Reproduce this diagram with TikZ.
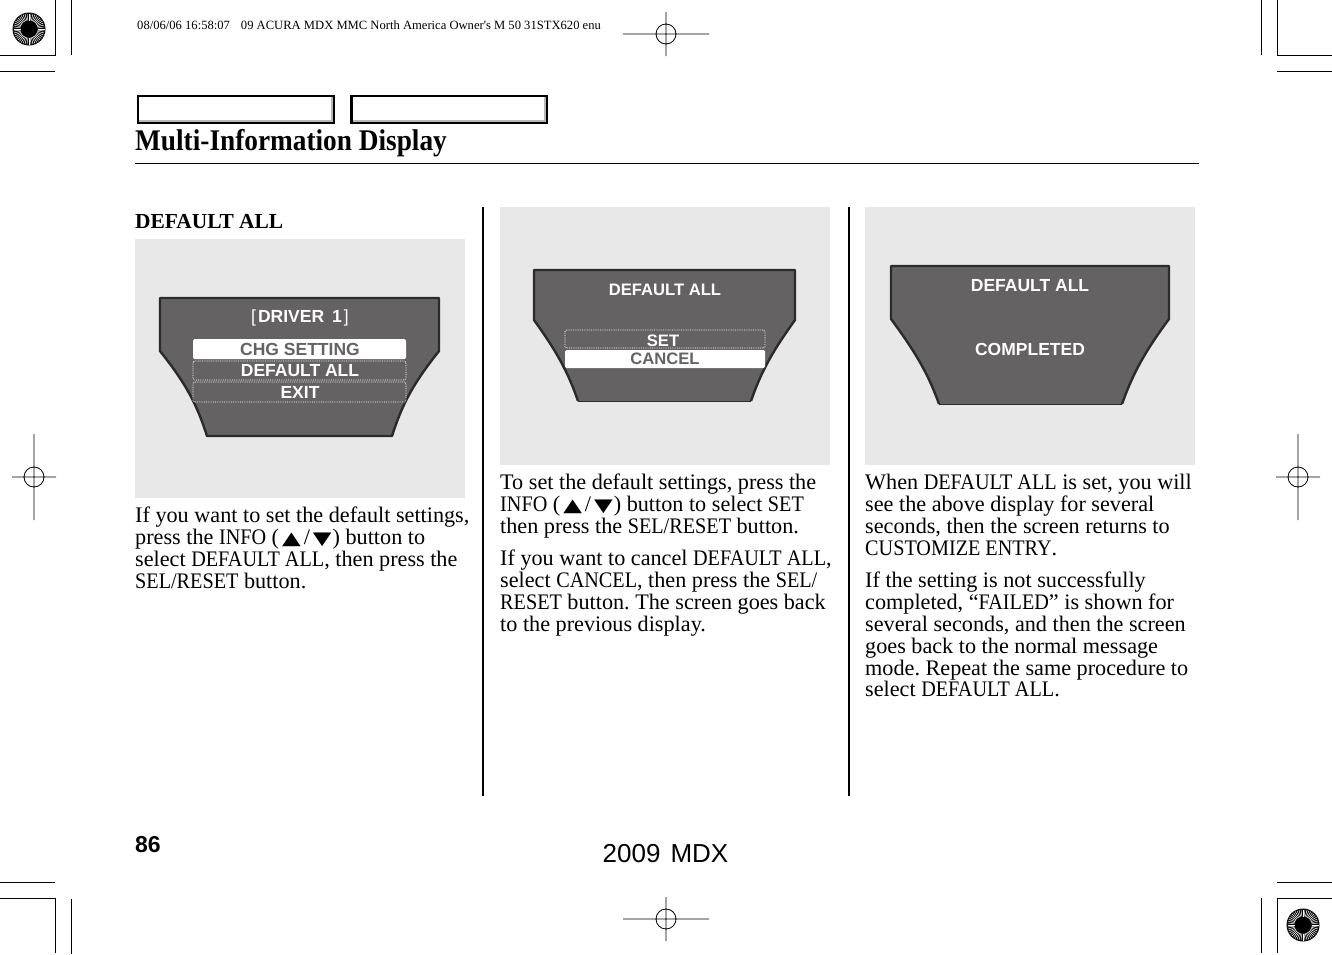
\documentclass[tikz,border=0pt]{standalone}
\usepackage{fontspec}
\setmainfont{Liberation Serif}
\setsansfont{Liberation Sans}
\newfontfamily\symfont[FakeStretch=1.35]{DejaVu Sans}
\newfontfamily\capfont[FakeStretch=0.91]{Liberation Serif}
\newfontfamily\titlefont[FakeStretch=0.91]{Liberation Serif}
\newfontfamily\slugfont{Liberation Serif}
\usetikzlibrary{positioning}
\definecolor{panelgray}{HTML}{E8E8E8}
\definecolor{screengray}{HTML}{646263}
\definecolor{edgegray}{HTML}{2B2B2B}
\frenchspacing
\newcommand{\cp}[1]{{\capfont #1}}
\newcommand{\updown}{\kern3pt{\symfont\fontsize{18}{18}\selectfont ▲}\kern3pt/\kern3pt{\symfont\fontsize{18}{18}\selectfont ▼}\kern1pt}
\newcommand{\regmark}[4]{% x, y, half width, half height
    \draw[markline] (#1-#3,#2) -- (#1+#3,#2) (#1,#2-#4) -- (#1,#2+#4) (#1,#2) circle (10);
}
\newcommand{\sunmark}[2]{%
    \fill[black] (#1,#2) circle (16.5);
    \foreach \ang in {0,7.5,...,355} {
        \draw[white,line width=.5pt] (#1,#2) ++(\ang:8.5) -- ++(\ang:7);
    }
}
\tikzset{
    markline/.style={black,line width=.8pt},
    bodytext/.style={anchor=north west,inner sep=0pt,align=left,font=\fontsize{22.2}{21.8}\selectfont},
    panel/.style={fill=panelgray,draw=none},
    lcdtext/.style={inner sep=0pt,white,font=\sffamily\bfseries\fontsize{17.5}{17.5}\selectfont},
    lcdsmall/.style={lcdtext,font=\sffamily\bfseries\fontsize{16.6}{16.6}\selectfont},
    selbar/.style={fill=white,rounded corners=1.5pt},
    optbar/.style={draw=white,densely dotted,line width=.8pt,rounded corners=1.5pt}
}
\begin{document}
\begin{tikzpicture}[x=1pt,y=-1pt]
    \useasboundingbox[fill=white] (0,0) rectangle (1332,954);
    % crop marks
    \draw[markline] (55,0) -- (55,55) -- (0,55) (71,0) -- (71,55) (0,71) -- (55,71);
    \draw[markline] (1277,0) -- (1277,55) -- (1332,55) (1261,0) -- (1261,55) (1277,71) -- (1332,71);
    \draw[markline] (0,882) -- (55,882) (0,898) -- (55,898) -- (55,953) (71,899) -- (71,954);
    \draw[markline] (1277,882) -- (1332,882) (1332,898) -- (1277,898) -- (1277,953) (1261,898) -- (1261,953);
    \regmark{666}{34}{43}{22}
    \regmark{666}{919}{43}{22}
    \regmark{34}{477}{22}{43}
    \regmark{1298}{477}{22}{43}
    \sunmark{29}{29}
    \sunmark{1303}{925}
    \node[anchor=base west,inner sep=0pt,font=\slugfont\fontsize{12.6}{12.6}\selectfont] (slug) at (137,29) {08/06/06 16:58:07\hspace{11pt}09 ACURA MDX MMC North America Owner's M 50 31STX620 enu};
    % header
    \draw[black!28,line width=2pt] (138,121) -- (332,121) -- (332,97) (352,121) -- (545,121) -- (545,97);
    \draw[black,line width=2.4pt] (138,96) rectangle (334,123) (351.5,96) rectangle (547,123);
    \node[anchor=base west,inner sep=0pt,font=\titlefont\bfseries\fontsize{30}{30}\selectfont] (title) at (135,150.5) {Multi-Information Display};
    \draw[black,line width=.8pt] (135,163.5) -- (1199,163.5);
    \draw[black,line width=1.6pt] (483,207) -- (483,796) (849,207) -- (849,796);
    % first column
    \node[anchor=base west,inner sep=0pt,font=\bfseries\fontsize{21.4}{21.4}\selectfont] (head) at (135,228) {DEFAULT ALL};
    \fill[panel] (135,239) rectangle (465,498);
    \fill[screengray] (160,298) -- (439,298) -- (439,351) .. controls (412,385) and (402,405) .. (392,436) -- (207,436) .. controls (197,405) and (187,385) .. (160,351) -- cycle;
    \draw[edgegray,line width=2.4pt,line join=round] (160,298) -- (439,298) -- (439,351) .. controls (412,385) and (402,405) .. (392,436) -- (207,436) .. controls (197,405) and (187,385) .. (160,351) -- cycle;
    \fill[selbar] (193,339) rectangle (406,359);
    \draw[optbar] (193,361) rectangle (406,380);
    \draw[optbar] (193,382) rectangle (406,402);
    \node[lcdtext] (driver) at (300,318) {{\mdseries[}\hspace{2pt}DRIVER\hspace{8pt}1\hspace{2pt}{\mdseries]}};
    \node[lcdtext,text=screengray] (chg) at (300,349) {CHG SETTING};
    \node[lcdtext] (defall) at (300,370.5) {DEFAULT ALL};
    \node[lcdtext] (exit) at (300,392) {EXIT};
    \node[bodytext] (textA) at (135,507) {If you want to set the default settings,\\press the \cp{INFO} (\updown) button to\\select \cp{DEFAULT ALL}, then press the\\\cp{SEL/RESET} button.};
    % second column
    \fill[panel] (500,207) rectangle (830,465);
    \fill[screengray] (534,270) -- (795,270) -- (795,320) .. controls (772,352) and (761,372) .. (751,401) -- (578,401) .. controls (568,372) and (557,352) .. (534,320) -- cycle;
    \draw[edgegray,line width=2.4pt,line join=round] (578,401) .. controls (568,372) and (557,352) .. (534,320) -- (534,270) -- (795,270) -- (795,320) .. controls (772,352) and (761,372) .. (751,401);
    \draw[edgegray,line width=.8pt] (578,401) -- (751,401);
    \draw[optbar] (565,330) rectangle (765,348);
    \fill[selbar] (565,350) rectangle (765,368);
    \node[lcdsmall] (titleB) at (665,289.5) {DEFAULT ALL};
    \node[lcdsmall] (set) at (663,340.5) {SET};
    \node[lcdsmall,text=screengray] (cancel) at (665,359) {CANCEL};
    \node[bodytext] (textB) at (500,474) {To set the default settings, press the\\\cp{INFO} (\updown) button to select \cp{SET}\\then press the \cp{SEL/RESET} button.};
    \node[bodytext] (textC) at (500,550) {If you want to cancel \cp{DEFAULT ALL},\\select \cp{CANCEL}, then press the \cp{SEL/}\\\cp{RESET} button. The screen goes back\\to the previous display.};
    % third column
    \fill[panel] (865,207) rectangle (1195,465);
    \fill[screengray] (891,266) -- (1169,266) -- (1169,319) .. controls (1143,354) and (1132,376) .. (1122,404) -- (939,404) .. controls (929,376) and (917,354) .. (891,319) -- cycle;
    \draw[edgegray,line width=2.4pt,line join=round] (939,404) .. controls (929,376) and (917,354) .. (891,319) -- (891,266) -- (1169,266) -- (1169,319) .. controls (1143,354) and (1132,376) .. (1122,404);
    \draw[edgegray,line width=.8pt] (939,404) -- (1122,404);
    \node[lcdtext] (titleC) at (1030,285.5) {DEFAULT ALL};
    \node[lcdtext] (done) at (1030,349) {COMPLETED};
    \node[bodytext] (textD) at (865,474) {When \cp{DEFAULT ALL} is set, you will\\see the above display for several\\seconds, then the screen returns to\\\cp{CUSTOMIZE ENTRY}.};
    \node[bodytext] (textE) at (865,572) {If the setting is not successfully\\completed, “\cp{FAILED}” is shown for\\several seconds, and then the screen\\goes back to the normal message\\mode. Repeat the same procedure to\\select \cp{DEFAULT ALL}.};
    % footer
    \node[anchor=base west,inner sep=0pt,font=\sffamily\bfseries\fontsize{23}{23}\selectfont] (page) at (135,852.5) {86};
    \node[anchor=base,inner sep=0pt,font=\sffamily\fontsize{26}{26}\selectfont] (model) at (665.5,862) {2009\hspace{10pt}MDX};
\end{tikzpicture}
\end{document}
